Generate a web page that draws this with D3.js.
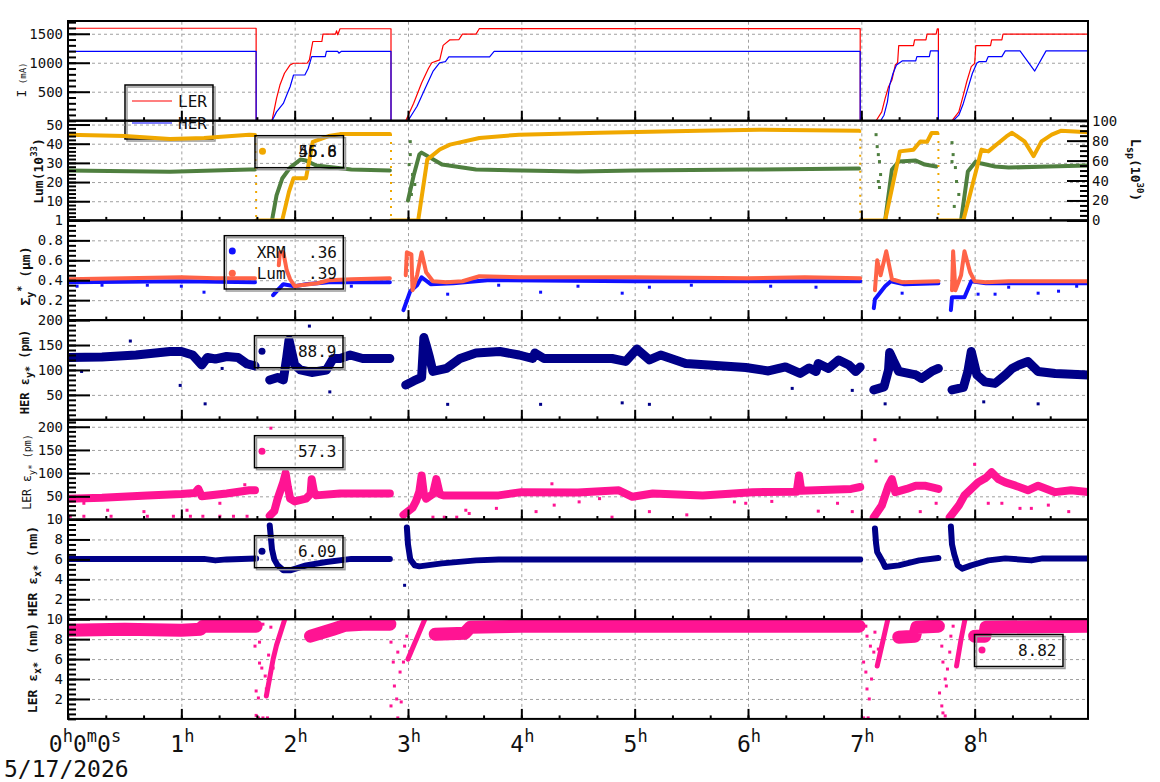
<!DOCTYPE html>
<html>
<head>
<meta charset="utf-8">
<script src="https://cdn.jsdelivr.net/npm/d3@7"></script>
<style>
body { margin: 0; background: #fff; }
text { font-family: "DejaVu Sans Mono", monospace; fill: #111; }
.grid line { stroke: #a0a0a0; stroke-dasharray: 3,3; stroke-width: 1; }
.grid .domain { display: none; }
.ax line { stroke: #000; stroke-width: 2; }
.ax .domain { display: none; }
.ax text { font-size: 14px; }
</style>
</head>
<body>
<svg id="chart" width="1160" height="782"></svg>
<script>
// ---- time axis ----
var hourTicks = [0, 1, 2, 3, 4, 5, 6, 7, 8];
var dateLabel = "5/17/2026";

// ---- beam currents (mA) ----
var lerCurrent = [[0,1595],[1.66,1595],[1.66,0],[1.80,0],[1.84,385],[1.87,615],[1.91,818],[1.96,962],[1.99,991],[2.11,991],[2.13,1049],[2.16,1366],[2.24,1366],[2.25,1494],[2.36,1494],[2.37,1551],[2.38,1482],[2.40,1586],[2.85,1586],[2.85,0],[2.98,0],[3.05,300],[3.12,650],[3.18,900],[3.21,1000],[3.28,1050],[3.31,1300],[3.37,1395],[3.45,1400],[3.48,1494],[3.60,1494],[3.63,1590],[6.99,1590],[6.99,0],[7.13,0],[7.18,153],[7.21,385],[7.24,586],[7.27,702],[7.30,962],[7.32,1000],[7.33,1296],[7.46,1296],[7.47,1395],[7.57,1395],[7.58,1494],[7.66,1494],[7.67,1586],[7.68,1586],[7.68,0],[7.80,0],[7.86,153],[7.90,442],[7.93,672],[7.97,932],[8.00,990],[8.01,1296],[8.14,1296],[8.15,1395],[8.24,1395],[8.25,1494],[9,1494]];
var herCurrent = [[0,1195],[1.66,1195],[1.66,0],[1.80,0],[1.84,152],[1.90,298],[1.93,442],[1.96,586],[1.99,788],[2.09,788],[2.12,905],[2.15,1106],[2.27,1106],[2.28,1195],[2.38,1195],[2.39,1165],[2.41,1195],[2.85,1195],[2.85,0],[3.0,0],[3.08,250],[3.15,550],[3.22,850],[3.28,1000],[3.33,1020],[3.36,1100],[3.72,1100],[3.76,1195],[6.99,1195],[6.99,0],[7.17,0],[7.20,95],[7.23,326],[7.25,615],[7.28,818],[7.31,962],[7.36,1031],[7.48,1031],[7.49,1106],[7.60,1106],[7.61,1205],[7.68,1205],[7.68,0],[7.81,0],[7.86,95],[7.90,298],[7.94,558],[7.98,818],[8.02,997],[8.04,1019],[8.10,1019],[8.12,1106],[8.24,1106],[8.27,1205],[8.40,1205],[8.53,857],[8.63,1205],[9,1205]];

// ---- luminosity (10^33, left) and specific lum (10^30, right) ----
var lum = [[0,44.7],[0.5,44.0],[0.9,42.5],[1.2,43],[1.6,44.7],[1.65,44.5],null,
  [1.66,0],[1.89,0],[1.95,15],[1.99,22],[2.1,22],[2.16,41],[2.3,44],[2.4,45],[2.84,45],null,
  [2.85,0],[3.09,0],[3.17,31.7],[3.28,37],[3.37,39.5],[3.63,43],[3.98,44.7],[4.69,45.7],[5.57,46.8],[6.1,47.3],[6.98,46.8],null,
  [6.99,0],[7.21,0],[7.34,36],[7.46,36.9],[7.52,41.2],[7.58,41],[7.62,45.6],[7.67,45.6],null,
  [7.68,0],[7.90,0],[8.06,36.9],[8.12,36],[8.28,43.8],[8.33,45.7],[8.44,41.2],[8.52,33.5],[8.59,41.2],[8.68,44.7],[8.76,46.7],[9,46]];
var lumDrops = [[1.66,44.5],[2.85,45],[6.99,46.8],[7.68,45.6]];
var lumSp = [[0,50],[0.9,48.7],[1.6,51],[1.65,51],null,
  [1.80,0],[1.84,25],[1.89,42],[1.96,53],[2.05,61],[2.1,60],[2.19,55],[2.5,51],[2.84,50],null,
  [3.0,20],[3.05,45],[3.1,66],[3.12,68],[3.3,56],[3.6,51],[4.5,49],[5,50],[6,51],[6.98,52],null,
  [7.21,0],[7.27,51],[7.33,59],[7.48,60],[7.56,56],[7.66,54],null,
  [7.88,0],[7.94,49],[8.01,59],[8.06,57],[8.18,54],[8.30,53],[8.65,54],[9,55]];
var lumSpScatter = [[3.01,56],[3.02,79],[3.02,66],[3.03,26],[3.04,46],[3.06,36],[7.13,86],[7.14,74],[7.15,66],[7.15,39],[7.16,59],[7.16,33],[7.17,46],[7.80,78],[7.80,59],[7.81,66],[7.82,14],[7.83,53],[7.84,39],[7.86,26]];

// ---- vertical beam size (um) ----
var sigmaLum = [[0,0.41],[0.5,0.42],[1.0,0.43],[1.3,0.42],[1.65,0.42],null,
  [1.86,0.55],[1.87,0.68],[1.9,0.68],[1.93,0.5],[1.96,0.41],[2.0,0.34],[2.05,0.35],[2.2,0.37],[2.3,0.40],[2.5,0.41],[2.84,0.42],null,
  [2.98,0.45],[2.99,0.68],[3.03,0.66],[3.04,0.30],[3.08,0.45],[3.12,0.68],[3.16,0.48],[3.22,0.39],[3.34,0.38],[3.48,0.39],[3.63,0.44],[4.0,0.43],[5.0,0.43],[6.0,0.42],[6.5,0.43],[6.99,0.42],null,
  [7.12,0.3],[7.14,0.6],[7.17,0.45],[7.22,0.69],[7.27,0.41],[7.36,0.38],[7.68,0.39],null,
  [7.8,0.3],[7.81,0.69],[7.83,0.3],[7.88,0.45],[7.91,0.69],[7.96,0.48],[8.0,0.39],[8.1,0.38],[8.3,0.39],[9,0.39]];
var sigmaXrm = [[0,0.38],[1.0,0.39],[1.65,0.38],null,
  [1.81,0.25],[1.85,0.30],[1.9,0.36],[2.0,0.34],[2.1,0.36],[2.3,0.38],[2.84,0.38],null,
  [2.96,0.1],[3.02,0.29],[3.08,0.35],[3.12,0.43],[3.2,0.36],[3.4,0.37],[3.7,0.40],[5,0.39],[6,0.39],[6.99,0.39],null,
  [7.11,0.12],[7.12,0.21],[7.21,0.34],[7.26,0.39],[7.38,0.36],[7.68,0.37],null,
  [7.79,0.1],[7.8,0.23],[7.91,0.23],[7.97,0.39],[8.1,0.37],[9,0.37]];
var sigmaXrmOut = [[0.08,0.34],[0.3,0.35],[0.70,0.35],[1.0,0.34],[1.2,0.28],[2.5,0.34],[3.35,0.26],[3.8,0.35],[4.17,0.28],[4.5,0.34],[4.89,0.27],[5.13,0.33],[5.5,0.35],[6.2,0.34],[6.6,0.33],[7.36,0.27],[8.03,0.26],[8.18,0.26],[8.3,0.33],[8.56,0.27],[8.74,0.29],[8.9,0.34]];

// ---- HER vertical emittance (pm) ----
var herEy = [[0,125],[0.3,126],[0.6,130],[0.9,137],[1.0,137],[1.1,130],[1.18,110],[1.23,125],[1.3,122],[1.4,127],[1.5,125],[1.58,112],[1.65,108],null,
  [1.78,80],[1.85,85],[1.9,80],[1.93,125],[1.95,160],[1.97,140],[2.0,110],[2.05,100],[2.15,95],[2.28,100],[2.34,123],[2.4,123],[2.49,130],[2.6,123],[2.84,123],null,
  [2.98,70],[3.05,78],[3.12,85],[3.14,165],[3.16,150],[3.19,125],[3.22,97],[3.34,103],[3.46,123],[3.6,134],[3.81,137],[3.98,130],[4.1,123],[4.12,134],[4.2,123],[4.8,123],[4.92,117],[5.02,142],[5.13,120],[5.23,130],[5.45,113],[5.65,110],[5.98,105],[6.18,98],[6.33,106],[6.46,93],[6.54,104],[6.6,97],[6.62,113],[6.71,103],[6.8,120],[6.89,110],[6.95,97],[6.99,106],null,
  [7.11,60],[7.2,66],[7.24,100],[7.25,135],[7.28,120],[7.33,97],[7.48,90],[7.53,83],[7.62,97],[7.68,103],null,
  [7.80,60],[7.9,65],[7.94,97],[7.97,137],[8.02,90],[8.09,76],[8.18,73],[8.27,90],[8.33,103],[8.39,110],[8.47,117],[8.56,97],[8.71,93],[9,90]];
var herEyOut = [[0.12,97],[0.55,158],[0.99,69],[1.21,32],[1.36,103],[2.13,188],[2.31,56],[3.35,31],[4.17,31],[4.89,34],[5.13,31],[6.39,63],[6.92,59],[7.21,32],[8.08,36],[8.56,32]];

// ---- LER vertical emittance (pm) ----
var lerEy = [[0,45],[0.3,47],[0.7,52],[1.0,55],[1.12,57],[1.15,66],[1.18,50],[1.4,56],[1.6,63],[1.65,63],null,
  [1.78,8],[1.82,18],[1.85,45],[1.9,81],[1.92,100],[1.94,70],[1.96,45],[2.0,39],[2.1,45],[2.14,55],[2.15,87],[2.17,60],[2.19,52],[2.4,56],[2.84,56],null,
  [2.96,10],[3.04,25],[3.07,39],[3.1,60],[3.12,95],[3.14,55],[3.16,45],[3.22,55],[3.25,87],[3.28,55],[3.31,52],[3.8,52],[4.0,59],[4.5,58],[4.86,63],[4.98,49],[5.16,56],[5.6,52],[6.04,59],[6.43,60],[6.45,95],[6.47,62],[6.91,66],[6.99,70],null,
  [7.11,5],[7.18,30],[7.24,73],[7.27,87],[7.30,59],[7.4,66],[7.48,73],[7.56,73],[7.68,66],null,
  [7.78,5],[7.86,30],[7.91,52],[7.97,66],[8.03,80],[8.1,90],[8.15,102],[8.21,87],[8.27,80],[8.36,73],[8.47,63],[8.56,73],[8.71,59],[8.85,63],[9,59]];
var lerEyOut = [[0.02,7],[0.14,7],[0.14,35],[0.35,20],[0.38,7],[0.67,17],[0.70,7],[0.93,7],[1.05,20],[1.08,7],[1.19,7],[1.34,35],[1.34,7],[1.46,7],[1.56,75],[1.58,7],[1.79,197],[3.22,5],[3.32,5],[3.43,5],[3.51,20],[3.54,13],[3.78,24],[4.13,17],[4.27,77],[4.29,31],[4.51,38],[4.69,45],[4.80,5],[5.13,17],[5.46,10],[5.88,38],[5.98,35],[6.21,39],[6.62,18],[6.79,35],[6.92,17],[7.12,172],[7.13,126],[7.52,17],[7.66,35],[8.0,119],[8.12,35],[8.24,35],[8.40,24],[8.50,24],[8.65,31],[8.83,17]];

// ---- HER horizontal emittance (nm) ----
var herEx = [[0,6.05],[1.2,6.05],[1.3,5.9],[1.4,6.0],[1.66,6.1],null,
  [1.78,9.4],[1.8,7.0],[1.82,6.0],[1.85,5.4],[1.9,4.9],[1.96,4.9],[2.1,5.4],[2.28,5.74],[2.5,6.05],[2.84,6.05],null,
  [2.99,9.2],[3.0,7.5],[3.02,6.0],[3.06,5.4],[3.1,5.3],[3.3,5.6],[3.6,5.9],[3.8,6.0],[5.0,6.0],[6.99,6.0],null,
  [7.12,9.1],[7.13,7.6],[7.14,6.74],[7.19,5.74],[7.21,5.24],[7.33,5.4],[7.51,5.9],[7.68,6.14],null,
  [7.79,9.3],[7.8,7.5],[7.82,6.5],[7.85,5.4],[7.89,5.07],[7.97,5.4],[8.12,5.9],[8.27,6.1],[8.5,5.9],[8.6,6.1],[9,6.1]];
var herExOut = [[2.97,3.4]];

// ---- LER horizontal emittance (nm) ----
var lerExBand = [[0,8.9],[0.5,9.0],[1.0,8.9],[1.17,9.0],[1.19,9.3],[1.66,9.3],null,
  [2.14,8.3],[2.34,9.0],[2.45,9.4],[2.6,9.5],[2.84,9.5],null,
  [3.24,8.5],[3.5,8.6],[3.55,9.2],[4.0,9.3],[5,9.3],[6,9.3],[6.98,9.3],null,
  [7.33,8.2],[7.47,8.3],[7.49,9.2],[7.68,9.3],null,
  [8.0,8.3],[8.09,8.3],[8.1,9.2],[9,9.3]];
var lerExRamp = [[1.75,2.3],[1.81,6.0],[1.84,7.4],[1.91,9.9],[1.93,10.5],null,
  [3.0,6.0],[3.1,8.7],[3.16,10.3],null,
  [7.14,5.3],[7.18,7.3],[7.24,10.3],null,
  [7.84,5.3],[7.88,8.0],[7.92,10.3]];
var lerExScatter = [[1.65,7.3],[1.66,0.35],[1.66,2.8],[1.68,2.1],[1.68,0.1],[1.69,5.6],[1.69,7.7],[1.71,5.1],[1.72,9.5],[1.72,0.1],[1.74,4.3],[1.75,3.0],[1.76,0.1],[1.77,6.4],[1.78,4.0],[1.79,9.2],[1.81,5.1],
  [2.85,7.7],[2.85,1.3],[2.87,5.7],[2.88,3.3],[2.90,2.0],[2.91,6.7],[2.91,0.1],[2.93,4.7],[2.94,1.7],[2.96,5.7],[2.97,7.3],[2.99,8.3],
  [7.02,5.7],[7.02,0.1],[7.04,4.7],[7.04,9.3],[7.05,3.0],[7.05,8.3],[7.06,0.1],[7.07,2.0],[7.08,7.3],[7.09,4.0],[7.11,6.7],[7.12,8.7],[7.15,7.0],[7.16,6.0],
  [7.69,9.0],[7.69,2.6],[7.71,7.3],[7.71,1.3],[7.72,5.7],[7.72,0.6],[7.74,4.0],[7.74,0.3],[7.75,3.3],[7.76,5.0],[7.78,6.7],[7.79,8.3],[7.81,9.3]];

// ---- legend values ----
var lumLegend = ["46.8", "55.6"];
var sigmaLegend = [["XRM", ".36"], ["Lum", ".39"]];
var herEyLegend = "88.9";
var lerEyLegend = "57.3";
var herExLegend = "6.09";
var lerExLegend = "8.82";

// ---------------------------------------------------------------
var svg = d3.select("#chart");
var defs = svg.append("defs");
var left = 68, right = 1088, top0 = 21, ph = 99.7;
var x = d3.scaleLinear().domain([0, 9]).range([left, right]);
var plain = function(d) { return String(d); };

var line = function(ys) {
  return d3.line().defined(function(d) { return d != null; })
    .x(function(d) { return x(d[0]); })
    .y(function(d) { return ys(d[1]); });
};

function panel(i, domain, majors, minorStep) {
  var y0 = top0 + i * ph, y1 = y0 + ph;
  var y = d3.scaleLinear().domain(domain).range([y1, y0]);
  var g = svg.append("g");
  defs.append("clipPath").attr("id", "clip" + i).append("rect")
    .attr("x", left).attr("y", y0).attr("width", right - left).attr("height", ph);

  g.append("g").attr("class", "grid")
    .attr("transform", "translate(" + left + ",0)")
    .call(d3.axisLeft(y).tickValues(majors.filter(function(v) { return y(v) > y0 + 2; }))
      .tickSize(-(right - left)).tickFormat(""));
  g.append("g").attr("class", "grid")
    .attr("transform", "translate(0," + y1 + ")")
    .call(d3.axisBottom(x).tickValues(hourTicks.slice(1)).tickSize(-ph).tickFormat(""));

  var data = g.append("g").attr("clip-path", "url(#clip" + i + ")");
  return {i: i, g: g, y: y, y0: y0, y1: y1, data: data, majors: majors, minorStep: minorStep, domain: domain};
}

function axes(p) {
  var g = p.g;
  g.append("g").attr("class", "ax")
    .attr("transform", "translate(" + left + ",0)")
    .call(d3.axisLeft(p.y).tickValues(p.majors).tickSize(-22).tickPadding(5).tickFormat(plain));
  g.append("g").attr("class", "ax")
    .attr("transform", "translate(" + left + ",0)")
    .call(d3.axisLeft(p.y).tickValues(d3.range(p.domain[0], p.domain[1] + 1e-9, p.minorStep))
      .tickSize(-8).tickFormat(""))
    .selectAll("line").attr("stroke-width", 1.5);
  g.append("g").attr("class", "ax")
    .attr("transform", "translate(0," + p.y1 + ")")
    .call(d3.axisBottom(x).tickValues(hourTicks.slice(1)).tickSize(-10).tickFormat(""));
  g.append("g").attr("class", "ax")
    .attr("transform", "translate(0," + p.y1 + ")")
    .call(d3.axisBottom(x).tickValues(d3.range(0, 9, 1 / 3)).tickSize(-3.5).tickFormat(""))
    .selectAll("line").attr("stroke-width", 1.5);
  g.append("rect")
    .attr("x", left).attr("y", p.y0).attr("width", right - left).attr("height", p.y1 - p.y0)
    .attr("fill", "none").attr("stroke", "#000").attr("stroke-width", 2);
}

function path(p, data, color, w, ys) {
  p.data.append("path").datum(data)
    .attr("fill", "none").attr("stroke", color).attr("stroke-width", w)
    .attr("stroke-linejoin", "round").attr("stroke-linecap", "round")
    .attr("d", line(ys || p.y));
}

function dots(p, data, color, r, ys) {
  var s = ys || p.y;
  p.data.selectAll(null).data(data).enter().append("rect")
    .attr("x", function(d) { return x(d[0]) - r; })
    .attr("y", function(d) { return s(d[1]) - r; })
    .attr("width", 2 * r).attr("height", 2 * r)
    .attr("fill", color);
}

function box(bx, by, bw, bh) {
  svg.append("rect").attr("x", bx + 2).attr("y", by + 2).attr("width", bw).attr("height", bh)
    .attr("fill", "none").attr("stroke", "#9a9a9a").attr("stroke-width", 1.5);
  svg.append("rect").attr("x", bx).attr("y", by).attr("width", bw).attr("height", bh)
    .attr("fill", "none").attr("stroke", "#000").attr("stroke-width", 1.5);
}

function valueLegend(bx, by, color, texts) {
  box(bx, by, 88.5, 32);
  svg.append("circle").attr("cx", bx + 7.5).attr("cy", by + 15.5).attr("r", 3.5).attr("fill", color);
  texts.forEach(function(t) {
    svg.append("text").attr("x", bx + 82).attr("y", by + 21).attr("text-anchor", "end")
      .attr("font-size", 16).text(t);
  });
}

function yTitle(xb, yc, parts, size, bold, rot) {
  var t = svg.append("text")
    .attr("transform", "translate(" + xb + "," + yc + ") rotate(" + (rot || -90) + ")")
    .attr("text-anchor", "middle").attr("font-size", size)
    .attr("font-weight", bold ? "bold" : "normal");
  parts.forEach(function(pt) {
    var s = t.append("tspan").text(pt[0]);
    if (pt[1]) s.attr("dy", pt[1]);
    if (pt[2]) s.attr("font-size", pt[2]);
  });
}

// ---- panel 1 : currents ----
var p1 = panel(0, [0, 1720], [500, 1000, 1500], 100);
path(p1, lerCurrent, "#ff0000", 1.2);
path(p1, herCurrent, "#0000ff", 1.2);
axes(p1);
yTitle(26, 80, [["I", 0, 13], [" (mA)", 0, 9]], 13, false);
box(125, 85, 88, 54);
svg.append("line").attr("x1", 132).attr("x2", 172).attr("y1", 101).attr("y2", 101).attr("stroke", "#ff0000").attr("stroke-width", 1.2);
svg.append("line").attr("x1", 132).attr("x2", 172).attr("y1", 123).attr("y2", 123).attr("stroke", "#0000ff").attr("stroke-width", 1.2);
svg.append("text").attr("x", 178).attr("y", 107).attr("font-size", 16).text("LER");
svg.append("text").attr("x", 178).attr("y", 129).attr("font-size", 16).text("HER");

// ---- panel 2 : luminosity ----
var p2 = panel(1, [0, 52], [10, 20, 30, 40, 50], 2);
var yR = d3.scaleLinear().domain([0, 100]).range([p2.y1, p2.y0]);
path(p2, lumSp, "#4f7f3f", 4, yR);
dots(p2, lumSpScatter, "#4f7f3f", 1.5, yR);
path(p2, lum, "#f0a800", 4);
lumDrops.forEach(function(d) {
  p2.data.append("line").attr("x1", x(d[0])).attr("x2", x(d[0]))
    .attr("y1", p2.y(d[1])).attr("y2", p2.y(0))
    .attr("stroke", "#f0a800").attr("stroke-width", 2).attr("stroke-dasharray", "2,6");
});
axes(p2);
p2.g.append("g").attr("class", "ax")
  .attr("transform", "translate(" + right + ",0)")
  .call(d3.axisRight(yR).tickValues([0, 20, 40, 60, 80, 100]).tickSize(-21).tickPadding(4).tickFormat(plain));
p2.g.append("g").attr("class", "ax")
  .attr("transform", "translate(" + right + ",0)")
  .call(d3.axisRight(yR).tickValues(d3.range(0, 101, 5)).tickSize(-8).tickFormat(""))
  .selectAll("line").attr("stroke-width", 1.5);
yTitle(43, 171, [["Lum(10", 0], ["33", -6, 9], [")", 6, 13]], 13, true);
yTitle(1131, 170, [["L", 0], ["sp", 4, 10], ["(10", -4, 13], ["30", -6, 9], [")", 6, 13]], 13.5, true, 90);
valueLegend(255, 135.7, "#f0a800", lumLegend);

// ---- panel 3 : sigma_y* ----
var p3 = panel(2, [0, 1], [0.2, 0.4, 0.6, 0.8, 1], 0.05);
path(p3, sigmaXrm, "#1010ff", 4);
dots(p3, sigmaXrmOut, "#1010ff", 1.5);
path(p3, sigmaLum, "#ff6347", 4);
axes(p3);
yTitle(30, 276, [["\u03a3", 0], ["y", 4, 10], ["*", -9, 10], [" (\u03bcm)", 5, 13]], 13, true);
box(224.3, 235.7, 119, 53.3);
svg.append("circle").attr("cx", 232.3).attr("cy", 251).attr("r", 3.5).attr("fill", "#1010ff");
svg.append("circle").attr("cx", 232.3).attr("cy", 273.3).attr("r", 3.5).attr("fill", "#ff6347");
sigmaLegend.forEach(function(r, k) {
  svg.append("text").attr("x", 256.7).attr("y", 257.5 + k * 21.5).attr("font-size", 16).text(r[0]);
  svg.append("text").attr("x", 337).attr("y", 257.5 + k * 21.5).attr("font-size", 16)
    .attr("text-anchor", "end").text(r[1]);
});

// ---- panel 4 : HER eps_y* ----
var p4 = panel(3, [0, 200], [50, 100, 150, 200], 10);
path(p4, herEy, "#000088", 9);
dots(p4, herEyOut, "#000088", 1.5);
axes(p4);
yTitle(29, 372, [["HER \u03b5", 0], ["y*", 4, 10], [" (pm)", -4, 12]], 12, true);
valueLegend(254.5, 335.7, "#000088", [herEyLegend]);

// ---- panel 5 : LER eps_y* ----
var p5 = panel(4, [0, 215], [50, 100, 150, 200], 10);
path(p5, lerEy, "#ff1493", 8);
dots(p5, lerEyOut, "#ff1493", 1.5);
axes(p5);
yTitle(31, 472, [["LER \u03b5", 0], ["y*", 4, 9], [" (pm)", -4, 10]], 11.5, false);
valueLegend(254.5, 435.7, "#ff1493", [lerEyLegend]);

// ---- panel 6 : HER eps_x* ----
var p6 = panel(5, [0, 10], [2, 4, 6, 8, 10], 0.5);
path(p6, herEx, "#000088", 6);
dots(p6, herExOut, "#000088", 1.5);
axes(p6);
yTitle(37, 571, [["HER \u03b5", 0], ["x*", 4, 10], [" (nm)", -4, 13]], 13, true);
valueLegend(254.5, 535.7, "#000088", [herExLegend]);

// ---- panel 7 : LER eps_x* ----
var p7 = panel(6, [0, 10], [2, 4, 6, 8, 10], 0.5);
path(p7, lerExBand, "#ff1493", 13);
path(p7, lerExRamp, "#ff1493", 5);
dots(p7, lerExScatter, "#ff1493", 1.5);
axes(p7);
yTitle(37, 668, [["LER \u03b5", 0], ["x*", 4, 10], [" (nm)", -4, 13]], 13, true);
valueLegend(974.5, 634.5, "#ff1493", [lerExLegend]);

// ---- time labels ----
hourTicks.forEach(function(h) {
  var t = svg.append("text").attr("y", 752).attr("text-anchor", "middle")
    .attr("x", h === 0 ? x(h) + 17 : x(h) + 1);
  var parts = h === 0 ? [["0", "h"], ["0", "m"], ["0", "s"]] : [[String(h), "h"]];
  parts.forEach(function(pp, k) {
    t.append("tspan").attr("font-size", 23).attr("dy", k === 0 ? 0 : 10).text(pp[0]);
    t.append("tspan").attr("font-size", 17).attr("dy", -10).text(pp[1]);
  });
});
svg.append("text").attr("x", 4).attr("y", 777).attr("font-size", 23).text(dateLabel);
</script>
</body>
</html>
